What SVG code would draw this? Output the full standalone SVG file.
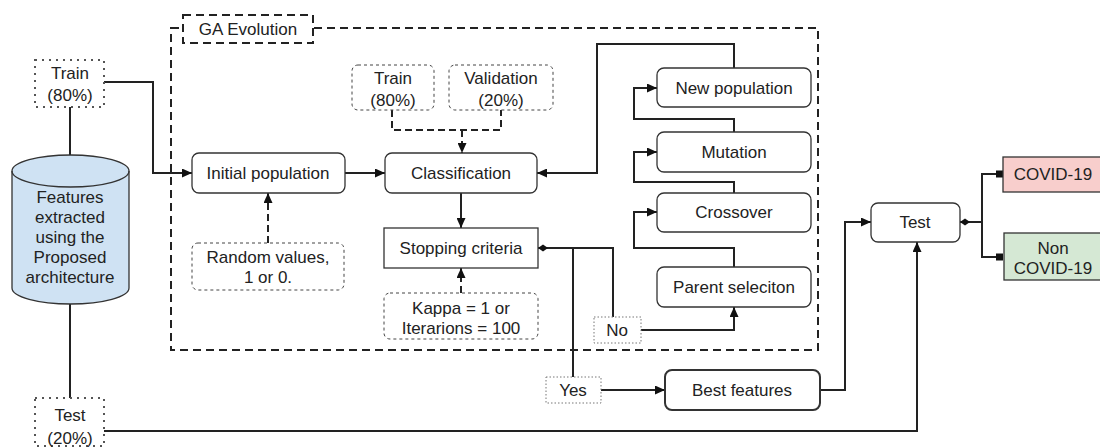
<svg xmlns="http://www.w3.org/2000/svg" width="1100" height="447" viewBox="0 0 1100 447">
<style>
text{font-family:"Liberation Sans",Arial,sans-serif;font-size:17px;fill:#222;text-anchor:middle}
.node{fill:#fff;stroke:#333;stroke-width:1.3}
.dash{fill:#fff;stroke:#444;stroke-width:1;stroke-dasharray:3 3}
.dot{fill:#fff;stroke:#555;stroke-width:2;stroke-dasharray:2 5}
.fdot{fill:#fff;stroke:#777;stroke-width:1;stroke-dasharray:1.5 2}
.frame{fill:none;stroke:#222;stroke-width:2;stroke-dasharray:8 5}
.c{fill:none;stroke:#222;stroke-width:2}
.cd{fill:none;stroke:#222;stroke-width:2;stroke-dasharray:7 4}
.arr{marker-end:url(#arrow)}
</style>
<defs>
<marker id="arrow" markerUnits="userSpaceOnUse" markerWidth="11" markerHeight="9" refX="10" refY="4.5" orient="auto"><path d="M0,0 L10,4.5 L0,9 z" fill="#111"/></marker>
<marker id="diamond" markerUnits="userSpaceOnUse" markerWidth="12" markerHeight="8" refX="0" refY="4" orient="auto"><path d="M0,4 L5,0.5 L10,4 L5,7.5 z" fill="#111"/></marker>
<marker id="square" markerUnits="userSpaceOnUse" markerWidth="8" markerHeight="8" refX="7" refY="4" orient="auto"><path d="M0,0.5 H7 V7.5 H0 z" fill="#111"/></marker>
</defs>
<rect width="1100" height="447" fill="#fff"/>

<g id="ga-frame">
<rect class="frame" x="171" y="28" width="647" height="322"/>
<rect class="frame" x="183" y="15" width="130" height="28" style="fill:#fff"/>
<text x="248" y="35">GA Evolution</text>
</g>

<g id="connectors">
<path class="c" d="M70,107 V155"/>
<path class="c" d="M70,303 V398"/>
<path class="c arr" d="M104,82 H153 V173 H192"/>
<path class="c arr" d="M345,173 H385"/>
<path class="cd" d="M392,110 V130 H501 V110"/>
<path class="cd arr" d="M462,130 V153"/>
<path class="c arr" d="M461,193 V228"/>
<path class="cd arr" d="M268,243 V193"/>
<path class="cd arr" d="M461,293 V268"/>
<path class="c" d="M538,248 H613 V317" marker-start="url(#diamond)"/>
<path class="c" d="M573,248 V377"/>
<path class="c arr" d="M641,330 H734 V307"/>
<path class="c arr" d="M734,267 V248 H634 V212 H657"/>
<path class="c arr" d="M734,193 V182 H634 V152 H657"/>
<path class="c arr" d="M734,132 V119 H634 V88 H657"/>
<path class="c arr" d="M734,68 V44 H597 V173 H537"/>
<path class="c arr" d="M601,390 H665"/>
<path class="c arr" d="M820,390 H845 V222 H871"/>
<path class="c arr" d="M104,431 H917 V242"/>
<path class="c" d="M960,222 H982 V174 H1003" marker-start="url(#diamond)" marker-end="url(#square)"/>
<path class="c" d="M982,222 V257 H1003" marker-end="url(#square)"/>
</g>

<g id="train-split">
<rect class="dot" x="35" y="60" width="69" height="47"/>
<text x="70" y="79">Train</text>
<text x="70" y="101">(80%)</text>
</g>

<g id="features-db">
<path d="M12,171 A58.5,16 0 0 1 129,171 V288 A58.5,16 0 0 1 12,288 Z" fill="#cfe2f3" stroke="#333" stroke-width="1.3"/>
<path d="M12,171 A58.5,16 0 0 0 129,171" fill="none" stroke="#333" stroke-width="1.3"/>
<text x="70" y="203">Features</text>
<text x="70" y="223">extracted</text>
<text x="70" y="243">using the</text>
<text x="70" y="263">Proposed</text>
<text x="70" y="283">architecture</text>
</g>

<g id="test-split">
<rect class="dot" x="35" y="398" width="69" height="48"/>
<text x="70" y="421">Test</text>
<text x="70" y="444">(20%)</text>
</g>

<g id="inner-train">
<rect class="dash" x="352" y="65" width="82" height="45" rx="6"/>
<text x="393" y="84">Train</text>
<text x="393" y="106">(80%)</text>
</g>

<g id="validation">
<rect class="dash" x="449" y="65" width="104" height="45" rx="6"/>
<text x="501" y="84">Validation</text>
<text x="501" y="106">(20%)</text>
</g>

<g id="initial-population">
<rect class="node" x="192" y="153" width="153" height="40" rx="7"/>
<text x="268" y="179">Initial population</text>
</g>

<g id="classification">
<rect class="node" x="385" y="153" width="152" height="40" rx="7"/>
<text x="461" y="179">Classification</text>
</g>

<g id="stopping-criteria">
<rect class="node" x="384" y="228" width="154" height="40"/>
<text x="461" y="254">Stopping criteria</text>
</g>

<g id="random-values">
<rect class="dash" x="192" y="243" width="152" height="47" rx="6"/>
<text x="268" y="263">Random values,</text>
<text x="268" y="283">1 or 0.</text>
</g>

<g id="kappa">
<rect class="dash" x="384" y="293" width="154" height="46" rx="6"/>
<text x="461" y="314">Kappa = 1 or</text>
<text x="461" y="334">Iterarions = 100</text>
</g>

<g id="new-population">
<rect class="node" x="657" y="68" width="154" height="39" rx="7"/>
<text x="734" y="94">New population</text>
</g>

<g id="mutation">
<rect class="node" x="657" y="132" width="154" height="40" rx="7"/>
<text x="734" y="158">Mutation</text>
</g>

<g id="crossover">
<rect class="node" x="657" y="193" width="154" height="39" rx="7"/>
<text x="734" y="218">Crossover</text>
</g>

<g id="parent-selection">
<rect class="node" x="657" y="267" width="154" height="40" rx="7"/>
<text x="734" y="293">Parent seleciton</text>
</g>

<g id="no">
<rect class="fdot" x="594" y="317" width="47" height="26"/>
<text x="617" y="336">No</text>
</g>

<g id="yes">
<rect class="fdot" x="546" y="377" width="55" height="26"/>
<text x="573" y="396">Yes</text>
</g>

<g id="best-features">
<rect class="node" x="665" y="370" width="155" height="40" rx="7" style="stroke-width:2"/>
<text x="742" y="396">Best features</text>
</g>

<g id="test">
<rect class="node" x="871" y="203" width="89" height="39" rx="7"/>
<text x="915" y="228">Test</text>
</g>

<g id="covid">
<rect x="1003" y="157" width="102" height="35" fill="#f8cecc" stroke="#333" stroke-width="1.3"/>
<text x="1053" y="180">COVID-19</text>
</g>

<g id="non-covid">
<rect x="1004" y="233" width="101" height="47" fill="#d5e8d4" stroke="#333" stroke-width="1.3"/>
<text x="1053" y="254">Non</text>
<text x="1053" y="274">COVID-19</text>
</g>
</svg>
